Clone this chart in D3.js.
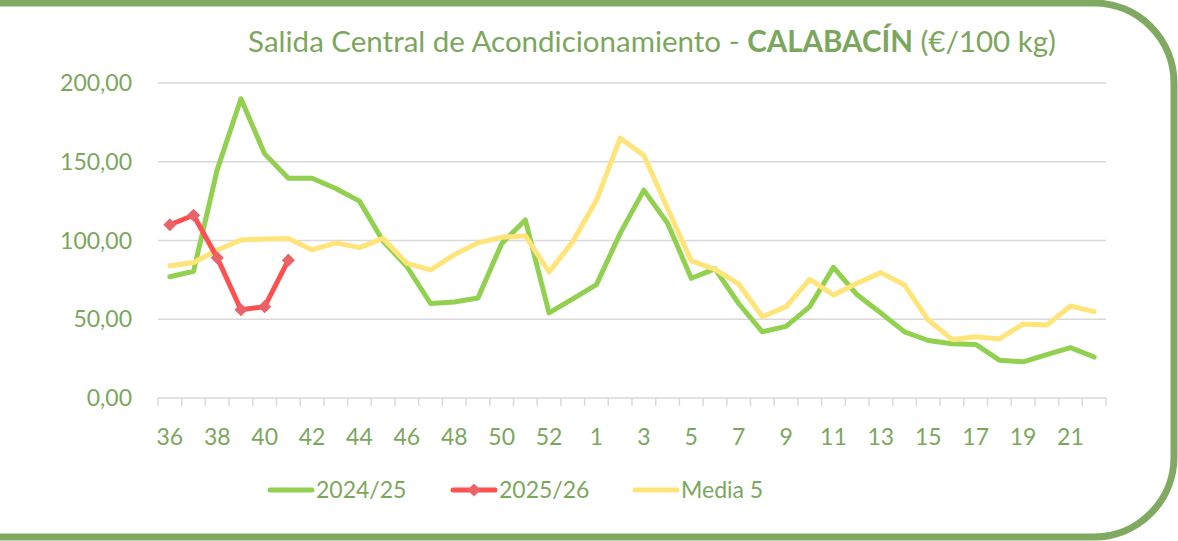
<!DOCTYPE html>
<html>
<head>
<meta charset="utf-8">
<script src="https://cdn.jsdelivr.net/npm/d3@7"></script>
<style>
  body { margin: 0; background: #fff; }
  svg { display: block; font-family: Lato, "Open Sans", sans-serif; }
</style>
</head>
<body>
<svg width="1178" height="541"></svg>
<script>
// weeks 36..53 then 1..22
const weeks = [36,37,38,39,40,41,42,43,44,45,46,47,48,49,50,51,52,53,
  1,2,3,4,5,6,7,8,9,10,11,12,13,14,15,16,17,18,19,20,21,22];

const s2425 = [77,80.5,145,190,155,139.5,139.5,133,125,99.5,83.5,60,61,63.5,98,113,
  54,63,72,104.5,132,111,76,82,60,42,45.5,58,83,65.5,54,42,36.5,34.5,34,24,23,27.5,32,26];

const s2526 = [110,116,89,56,58,87.5];

const media5 = [84,86,94,100.3,101,101.3,94,98.5,95.5,101.3,85.5,81.3,91,98.5,102,103,
  80,99.3,125.5,165,154,120.5,87,81.7,72.4,51.6,58,75.4,65.4,72.8,79.6,71.7,49.5,37.2,38.9,37.5,47,46.3,58.4,54.8];

const yTicks = [0, 50, 100, 150, 200];

const seriesNames = ["2024/25", "2025/26", "Media 5"];
const seriesColors = ["#92d050", "#ff5050", "#ffe47a"];

const svg = d3.select("svg"),
  width = +svg.attr("width"),
  height = +svg.attr("height");

const textColor = "#7ba75d";
const gridColor = "#d9d9d9";

// frame with rounded right corners
svg.append("rect")
  .attr("x", -120).attr("y", 3)
  .attr("width", 1294).attr("height", 534)
  .attr("rx", 80).attr("ry", 80)
  .attr("fill", "none")
  .attr("stroke", "#80aa62")
  .attr("stroke-width", 7);

const x = d3.scaleBand()
  .domain(d3.range(weeks.length))
  .range([158, 1106]);

const y = d3.scaleLinear()
  .domain([0, 200])
  .range([398, 83]);

// grid
svg.append("g")
  .selectAll("line")
  .data(yTicks.filter(d => d > 0))
  .join("line")
  .attr("x1", 158).attr("x2", 1106)
  .attr("y1", d => y(d)).attr("y2", d => y(d))
  .attr("stroke", gridColor)
  .attr("stroke-width", 1.5);

// y labels
svg.append("g")
  .selectAll("text")
  .data(yTicks)
  .join("text")
  .attr("x", 132)
  .attr("y", d => y(d))
  .attr("dy", "0.35em")
  .attr("text-anchor", "end")
  .attr("fill", textColor)
  .attr("font-size", 23)
  .text(d => d3.format(".2f")(d).replace(".", ","));

// x axis
const xAxis = svg.append("g");
xAxis.append("line")
  .attr("x1", 158).attr("x2", 1106)
  .attr("y1", 398).attr("y2", 398)
  .attr("stroke", gridColor).attr("stroke-width", 1.5);

xAxis.selectAll(".tk")
  .data(d3.range(weeks.length + 1))
  .join("line")
  .attr("class", "tk")
  .attr("x1", i => 158 + i * x.step()).attr("x2", i => 158 + i * x.step())
  .attr("y1", 398).attr("y2", 406)
  .attr("stroke", gridColor).attr("stroke-width", 1.5);

xAxis.selectAll("text")
  .data(weeks.map((w, i) => ({w, i})).filter(d => d.i % 2 === 0))
  .join("text")
  .attr("x", d => x(d.i) + x.bandwidth() / 2)
  .attr("y", 437)
  .attr("dy", "0.35em")
  .attr("text-anchor", "middle")
  .attr("fill", textColor)
  .attr("font-size", 23)
  .text(d => d.w);

// lines
const line = d3.line()
  .x((d, i) => x(i) + x.bandwidth() / 2)
  .y(d => y(d));

const allSeries = [s2425, s2526, media5];
[0, 2, 1].forEach(k => {
  svg.append("path")
    .datum(allSeries[k])
    .attr("fill", "none")
    .attr("stroke", seriesColors[k])
    .attr("stroke-width", 5)
    .attr("stroke-linejoin", "round")
    .attr("stroke-linecap", "round")
    .attr("d", line);
});

const diamond = d3.symbol().type(d3.symbolDiamond2).size(110);
svg.append("g")
  .selectAll("path")
  .data(s2526)
  .join("path")
  .attr("transform", (d, i) => `translate(${x(i) + x.bandwidth() / 2},${y(d)})`)
  .attr("d", diamond)
  .attr("fill", "#e8646a");

// title
const title = svg.append("text")
  .attr("x", 652)
  .attr("y", 42)
  .attr("dy", "0.35em")
  .attr("text-anchor", "middle")
  .attr("fill", textColor)
  .attr("font-size", 29.5);
title.append("tspan").text("Salida Central de Acondicionamiento - ");
title.append("tspan").attr("font-weight", "bold").text("CALABACÍN");
title.append("tspan").text(" (€/100 kg)");

// legend
const legendX = [270, 453, 635];
const legend = svg.append("g")
  .selectAll("g")
  .data(seriesNames)
  .join("g")
  .attr("transform", (d, i) => `translate(${legendX[i]},490)`);

legend.append("line")
  .attr("x1", 0).attr("x2", 42)
  .attr("stroke", (d, i) => seriesColors[i])
  .attr("stroke-width", 5)
  .attr("stroke-linecap", "round");

legend.filter((d, i) => i === 1)
  .append("path")
  .attr("transform", "translate(21,0)")
  .attr("d", diamond)
  .attr("fill", "#e8646a");

legend.append("text")
  .attr("x", 46)
  .attr("dy", "0.35em")
  .attr("fill", textColor)
  .attr("font-size", 23)
  .text(d => d);
</script>
</body>
</html>
